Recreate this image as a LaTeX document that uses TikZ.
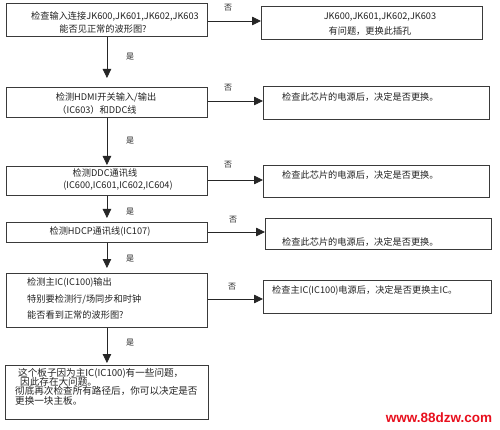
\documentclass[tikz,border=0pt]{standalone}
\usepackage{fontspec}
\setmainfont{Noto Sans CJK SC}
\newfontfamily\wmfont{Liberation Sans}
\usetikzlibrary{arrows.meta}
\definecolor{linec}{HTML}{3A3A3A}
\definecolor{textc}{HTML}{222222}
\definecolor{wmred}{HTML}{E8101E}
\begin{document}
\begin{tikzpicture}[x=1pt,y=-1pt,
  box/.style={draw=linec,line width=0.9pt,rectangle,inner sep=0pt,anchor=north west},
  arr/.style={draw=black!85,line width=0.8pt,-{Triangle[width=8.5pt,length=9pt]}},
  txt/.style={inner sep=0pt,text=textc,font=\fontsize{9.2}{10}\selectfont},
  lt/.style={txt,anchor=west},
  lab/.style={inner sep=0pt,text=textc,font=\fontsize{8}{9}\selectfont}]
\useasboundingbox[fill=white] (0,0) rectangle (500,430);

% left column boxes
\node[box,minimum width=201pt,minimum height=33pt] (b1) at (6,3) {};
\node[box,minimum width=201pt,minimum height=30pt] (b2) at (6,87) {};
\node[box,minimum width=201pt,minimum height=29pt] (b3) at (6,166) {};
\node[box,minimum width=201pt,minimum height=20pt] (b4) at (6,222) {};
\node[box,minimum width=201pt,minimum height=54pt] (b5) at (6,273) {};
\node[box,minimum width=203pt,minimum height=54pt] (b6) at (5,365) {};

% right column boxes
\node[box,minimum width=221pt,minimum height=33pt] (r1) at (261,6) {};
\node[box,minimum width=226pt,minimum height=33pt] (r2) at (263,86) {};
\node[box,minimum width=226pt,minimum height=32pt] (r3) at (263,165) {};
\node[box,minimum width=226pt,minimum height=31pt] (r4) at (265,218) {};
\node[box,minimum width=228pt,minimum height=33pt] (r5) at (263,280) {};

% texts
\node[txt] (t1a) at (115,16) {检查输入连接JK600,JK601,JK602,JK603};
\node[txt] (t1b) at (103,29) {能否见正常的波形图?};
\node[txt] (s1a) at (380,17) {JK600,JK601,JK602,JK603};
\node[txt] (s1b) at (370,31) {有问题，更换此插孔};
\node[txt] (t2a) at (106,97) {检测HDMI开关输入/输出};
\node[txt] (t2b) at (97,110) {（IC603）和DDC线};
\node[lt] (s2) at (282,97) {检查此芯片的电源后，决定是否更换。};
\node[txt] (t3a) at (105,173) {检测DDC通讯线};
\node[txt] (t3b) at (118,186) {(IC600,IC601,IC602,IC604)};
\node[lt] (s3) at (282,175) {检查此芯片的电源后，决定是否更换。};
\node[txt] (t4) at (100,232) {检测HDCP通讯线(IC107)};
\node[lt] (s4) at (282,242) {检查此芯片的电源后，决定是否更换。};
\node[lt] (t5a) at (27,283) {检测主IC(IC100)输出};
\node[lt] (t5b) at (27,299) {特别要检测行/场同步和时钟};
\node[lt] (t5c) at (27,315) {能否看到正常的波形图?};
\node[lt] (s5) at (272,291) {检查主IC(IC100)电源后，决定是否更换主IC。};
\node[lt,font=\fontsize{9.6}{10}\selectfont] (t6a) at (18,373) {这个板子因为主IC(IC100)有一些问题，};
\node[lt,font=\fontsize{9.6}{10}\selectfont] (t6b) at (20,382) {因此存在大问题。};
\node[lt,font=\fontsize{9.6}{10}\selectfont] (t6c) at (15,391) {彻底再次检查所有路径后，你可以决定是否};
\node[lt,font=\fontsize{9.6}{10}\selectfont] (t6d) at (15,401) {更换一块主板。};

% yes arrows
\draw[arr,shorten >=9pt] (b1.south) -- (b2.north);
\draw[arr,shorten >=1pt] (b2.south) -- (b3.north);
\draw[arr,shorten >=4pt] (b3.south) -- (b4.north);
\draw[arr,shorten >=5pt] (b4.south) -- (b5.north);
\draw[arr,shorten >=2pt] (b5.south) -- (b6.north);
\node[lab] (y1) at (130,57) {是};
\node[lab] (y2) at (130,141) {是};
\node[lab] (y3) at (130,212) {是};
\node[lab] (y4) at (130,259) {是};
\node[lab] (y5) at (130,343) {是};

% no arrows
\coordinate (h1) at (0,21);
\coordinate (h2) at (0,101);
\coordinate (h3) at (0,180);
\coordinate (h4) at (0,232);
\coordinate (h5) at (0,299);
\draw[arr] (b1.east |- h1) -- (r1.west |- h1);
\draw[arr] (b2.east |- h2) -- (r2.west |- h2);
\draw[arr] (b3.east |- h3) -- (r3.west |- h3);
\draw[arr] (b4.east |- h4) -- (r4.west |- h4);
\draw[arr] (b5.east |- h5) -- (r5.west |- h5);
\node[lab] (n1) at (228,8) {否};
\node[lab] (n2) at (228,88) {否};
\node[lab] (n3) at (228,165) {否};
\node[lab] (n4) at (233,220) {否};
\node[lab] (n5) at (232,287) {否};

% watermark
\node[inner sep=0pt,text=wmred,font=\wmfont\bfseries\fontsize{13.5}{14}\selectfont] (wm) at (439,418) {www.88dzw.com};
\end{tikzpicture}
\end{document}
